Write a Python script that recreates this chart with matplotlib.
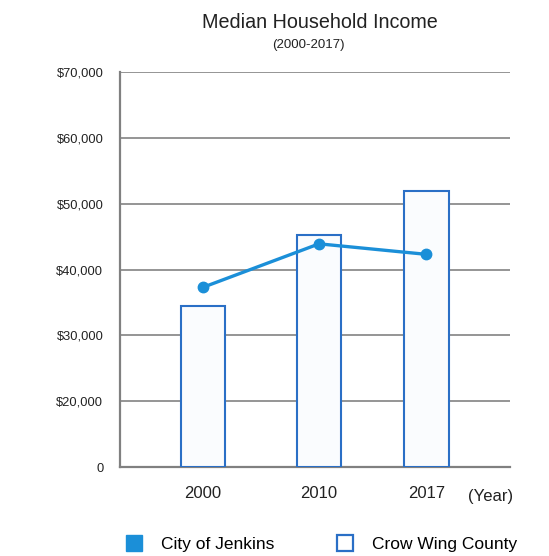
import numpy as np
import matplotlib
matplotlib.use("Agg")
import matplotlib.pyplot as plt
from matplotlib.lines import Line2D

# Median household income, 2000-2017
years = ["2000", "2010", "2017"]
county_income = [34500, 45200, 52000]   # Crow Wing County (bars)
city_income = [37300, 43900, 42300]     # City of Jenkins (line)
y_ticks = [0, 20000, 30000, 40000, 50000, 60000, 70000]
y_labels = ["0", "$20,000", "$30,000", "$40,000", "$50,000", "$60,000", "$70,000"]

line_blue = "#1b8fd8"
bar_edge = "#2a6fc6"
grid_gray = "#8c8c8c"
font = ["Liberation Sans", "DejaVu Sans"]


# the axis squeezes 0-20k into one step, then runs linearly
def fwd(v):
    v = np.asarray(v, dtype=float)
    return np.where(v < 20000, v / 2, v - 10000)


def inv(d):
    d = np.asarray(d, dtype=float)
    return np.where(d < 10000, d * 2, d + 10000)


fig = plt.figure(figsize=(5.49, 5.56), dpi=100)
ax = fig.add_axes([120 / 549, 1 - 467 / 556, 390 / 549, 395 / 556])
ax.set_yscale("function", functions=(fwd, inv))

x = np.array([0, 1, 1.926])
ax.bar(x, county_income, width=0.38, color="#fafcfe", edgecolor=bar_edge,
       linewidth=1.5, zorder=3)
ax.plot(x, city_income, color=line_blue, linewidth=2.4, marker="o",
        markersize=7.5, zorder=4)

ax.set_xlim(-0.716, 2.646)
ax.set_ylim(0, 70000)
ax.set_yticks(y_ticks)
ax.set_yticklabels(y_labels, family=font, fontsize=9.3, color="#222222")
ax.set_xticks(x)
ax.set_xticklabels(years, family=font, fontsize=12, color="#222222")
ax.tick_params(axis="y", length=0, pad=12)
ax.tick_params(axis="x", length=0, pad=14)

ax.grid(axis="y", color=grid_gray, linewidth=1.3, zorder=1)
ax.set_axisbelow(True)
for side in ["top", "right"]:
    ax.spines[side].set_visible(False)
for side in ["left", "bottom"]:
    ax.spines[side].set_color("#808080")
    ax.spines[side].set_linewidth(1.6)

fig.text(320 / 549, 1 - 22 / 556, "Median Household Income", ha="center",
         va="center", family=font, fontsize=14.2, color="#222222")
fig.text(308 / 549, 1 - 45 / 556, "(2000-2017)", ha="center", va="center",
         family=font, fontsize=9.5, color="#222222")
fig.text(491 / 549, 1 - 496 / 556, "(Year)", ha="center", va="center",
         family=font, fontsize=12, color="#222222")

handles = [
    Line2D([], [], linestyle="none", marker="s", markersize=11,
           markerfacecolor=line_blue, markeredgecolor=line_blue),
    Line2D([], [], linestyle="none", marker="s", markersize=11,
           markerfacecolor="white", markeredgecolor=bar_edge, markeredgewidth=1.6),
]
fig.legend(handles, ["City of Jenkins", "Crow Wing County"], ncol=2,
           loc="center left", bbox_to_anchor=(125 / 549, 1 - 544 / 556),
           frameon=False, prop={"family": font, "size": 12.5},
           handlelength=1.0, handletextpad=1.05, columnspacing=3.6,
           borderaxespad=0, borderpad=0)

fig.savefig("out.png", dpi=100)
